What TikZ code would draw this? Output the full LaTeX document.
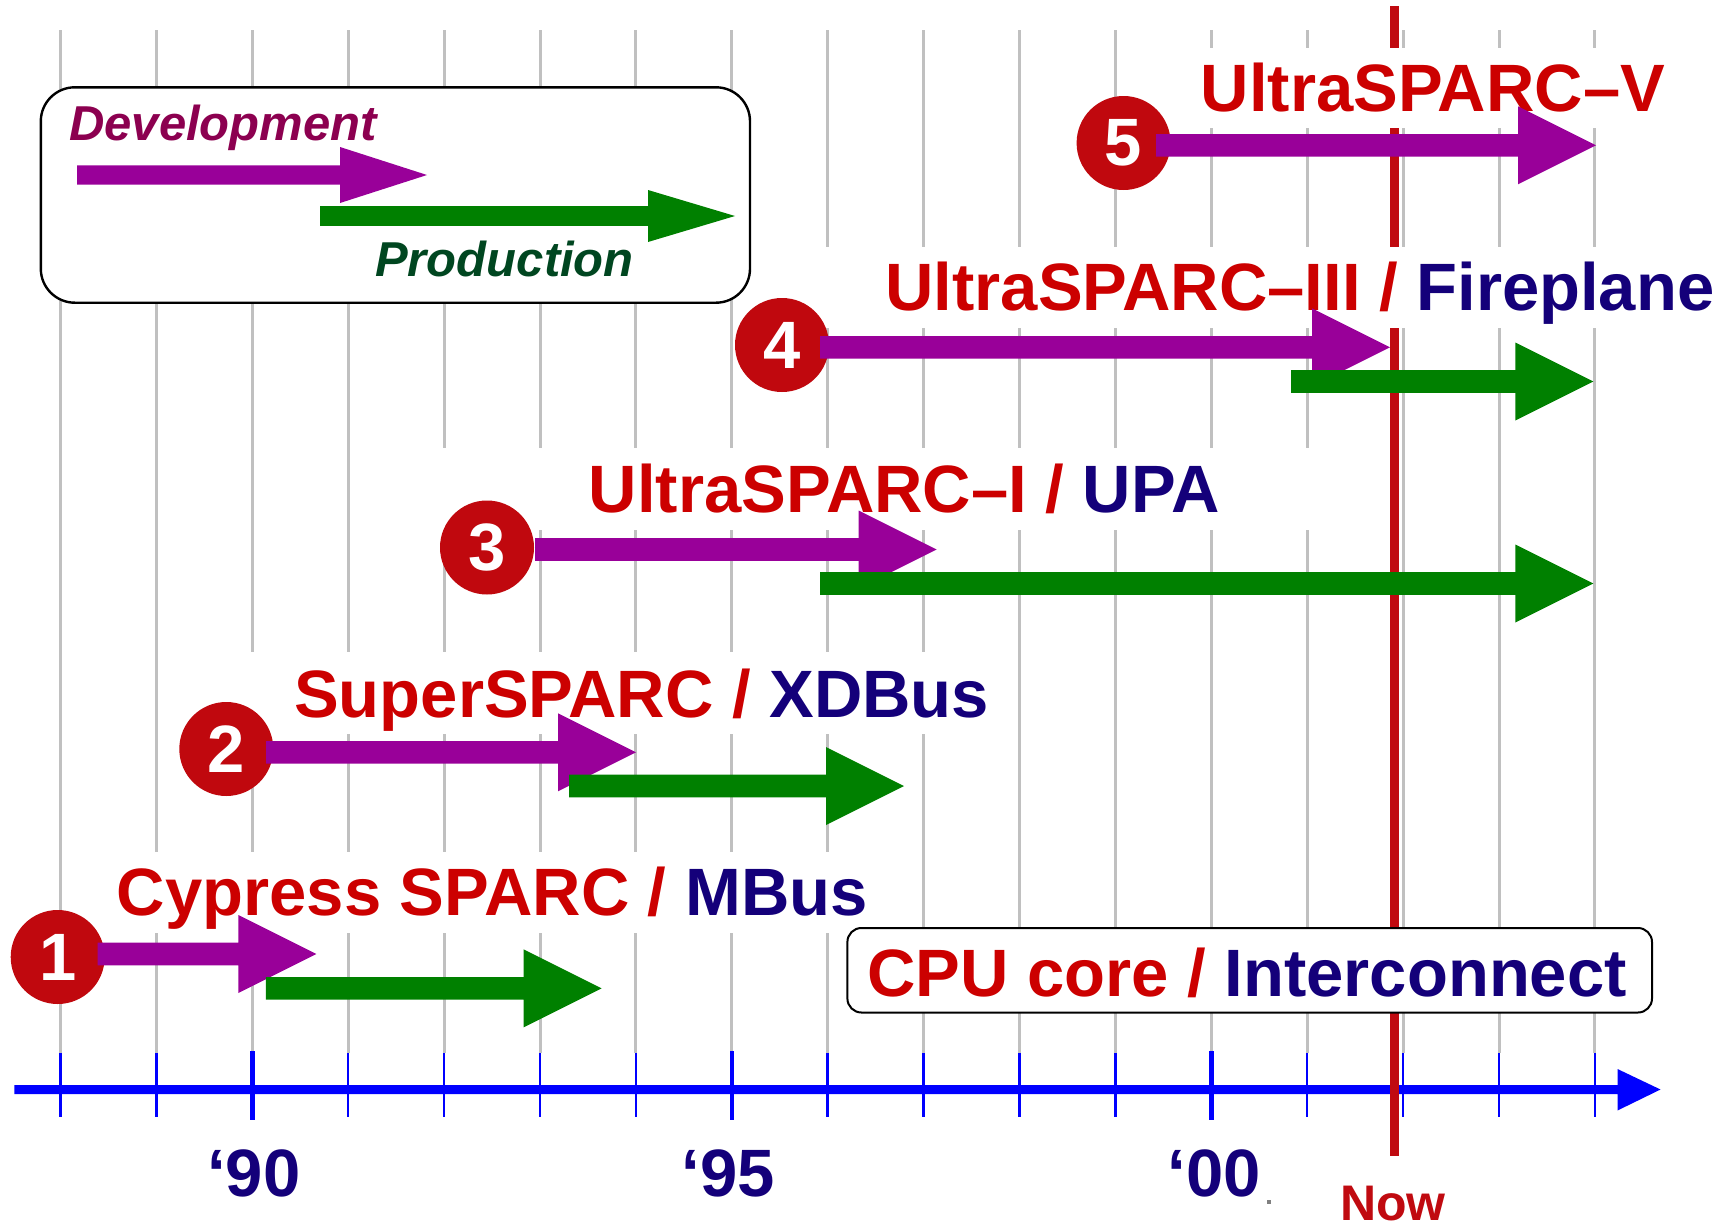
\documentclass[tikz,border=0pt]{standalone}
\usepackage{fontspec}
\setmainfont{Liberation Sans}
\definecolor{cred}{RGB}{204,0,0}
\definecolor{cnavy}{RGB}{20,0,122}
\definecolor{cpurple}{RGB}{153,0,153}
\definecolor{cgreen}{RGB}{0,128,0}
\definecolor{ccirc}{RGB}{192,8,14}
\definecolor{cnow}{RGB}{192,10,16}
\definecolor{cgrid}{RGB}{192,192,192}
\definecolor{cdev}{RGB}{140,0,80}
\definecolor{cprod}{RGB}{0,70,32}
\definecolor{caxis}{RGB}{0,0,255}
% block arrow: colour, start x, tip x, y, shaft half, head half, head length
\newcommand\blkarrow[7]{\fill[#1] (#2,#4-#5) -- (#3-#7,#4-#5) -- (#3-#7,#4-#6) -- (#3,#4) -- (#3-#7,#4+#6) -- (#3-#7,#4+#5) -- (#2,#4+#5) -- cycle;}
\tikzset{
  bigfont/.style={font=\fontsize{33.5}{40}\selectfont\bfseries},
  lbl/.style={bigfont, inner sep=0pt, anchor=base},
  circ/.style={circle, fill=ccirc, minimum size=47pt, inner sep=0pt, text=white, bigfont},
  gridline/.style={cgrid, line width=1.5pt},
  labelbg/.style={fill=white},
  nowline/.style={cnow, line width=4.5pt},
  legfont/.style={font=\fontsize{24.5}{30}\selectfont\bfseries\itshape, inner sep=0pt, anchor=base},
}
\begin{document}
\begin{tikzpicture}[x=0.5pt,y=-0.5pt]
\useasboundingbox (0,0) rectangle (1730,1226);
\fill[white] (0,0) rectangle (1730,1226);
% grid lines
\foreach \i in {0,...,16}{
  \draw[gridline] (60.5+\i*95.9,30) -- (60.5+\i*95.9,1053);
}
% axis
\fill[caxis] (14.3,1085) -- (1617.5,1085) -- (1617.5,1069) -- (1660.5,1089.5) -- (1617.5,1110.5) -- (1617.5,1094) -- (14.3,1094) -- cycle;
\foreach \i in {0,1,3,4,5,6,8,9,10,11,13,14,15,16}{
  \draw[caxis, line width=1.25pt] (60.5+\i*95.9,1053) -- (60.5+\i*95.9,1117);
}
\foreach \i in {2,7,12}{
  \draw[caxis, line width=2.25pt] (60.5+\i*95.9,1051) -- (60.5+\i*95.9,1120);
}
\node[lbl, text=cnavy] (y90) at (253.8,1196.7) {‘90};
\node[lbl, text=cnavy] (y95) at (728,1196.7) {‘95};
\node[lbl, text=cnavy] (y00) at (1214,1196.7) {‘00};
\fill[gray] (1267,1200) rectangle (1271,1204);
\node[lbl, text=cnow, font=\fontsize{25}{30}\selectfont\bfseries] (now) at (1393,1220) {Now};

% Now line (under label boxes and arrows)
\coordinate (ntop) at (1394.5,6);
\coordinate (nbot) at (1394.5,1156);
\draw[nowline] (ntop) -- (nbot);

% legend box
\draw[line width=1.2pt, rounded corners=17pt, fill=white] (40.8,87.3) rectangle (750,302.7);
\node[legfont, text=cdev] (dev) at (223,140) {Development};
\node[legfont, text=cprod] (prod) at (504.5,276.7) {Production};
\blkarrow{cpurple}{77}{427}{175}{9.7}{28}{87}
\blkarrow{cgreen}{320}{735}{216}{9.8}{26}{87}

% label backgrounds
\fill[labelbg] (80,852) rectangle (880,933);
\fill[labelbg] (240,652) rectangle (1000,734);
\fill[labelbg] (430,448) rectangle (1320,530);
\fill[labelbg] (820,247) rectangle (1725,328);
\fill[labelbg] (1180,48) rectangle (1680,128);

% labels
\node[lbl, text=cred] (l1) at (492.3,915.7) {Cypress SPARC / \textcolor{cnavy}{MBus}};
\node[lbl, text=cred] (l2) at (641.7,717.3) {SuperSPARC / \textcolor{cnavy}{XDBus}};
\node[lbl, text=cred] (l3) at (904.2,512.7) {UltraSPARC–I / \textcolor{cnavy}{UPA}};
\node[lbl, text=cred] (l4) at (1299.9,310.7) {UltraSPARC–III / \textcolor{cnavy}{Fireplane}};
\node[lbl, text=cred] (l5) at (1433,111.7) {UltraSPARC–V};

% CPU core box
\draw[line width=1pt, rounded corners=7pt, fill=white] (847.4,928) rectangle (1652,1012.5);
\node[lbl, text=cred] (key) at (1247,996) {CPU core / \textcolor{cnavy}{Interconnect}};

% circles
\node[circ] (c1) at (57.7,957) {1};
\node[circ] (c2) at (226.3,749) {2};
\node[circ] (c3) at (487,547.5) {3};
\node[circ] (c4) at (782,345) {4};
\node[circ] (c5) at (1123.6,143) {5};

% arrows
\blkarrow{cpurple}{97.6}{316.3}{954}{11.3}{39}{78}
\blkarrow{cgreen}{265.8}{601.6}{988.4}{11.3}{39}{78}
\blkarrow{cpurple}{266}{636}{752.3}{11.3}{39}{78}
\blkarrow{cgreen}{569}{904}{786}{11.3}{39}{78}
\blkarrow{cpurple}{535}{936.7}{549.5}{11.3}{39}{78}
\blkarrow{cgreen}{820}{1593.3}{583.5}{11.3}{39}{78}
\blkarrow{cpurple}{820}{1390}{347.3}{11.3}{39}{78}
\blkarrow{cgreen}{1291}{1593.3}{381.5}{11.3}{39}{78}
\blkarrow{cpurple}{1156}{1596}{145.3}{11.3}{39}{78}
\end{tikzpicture}
\end{document}
